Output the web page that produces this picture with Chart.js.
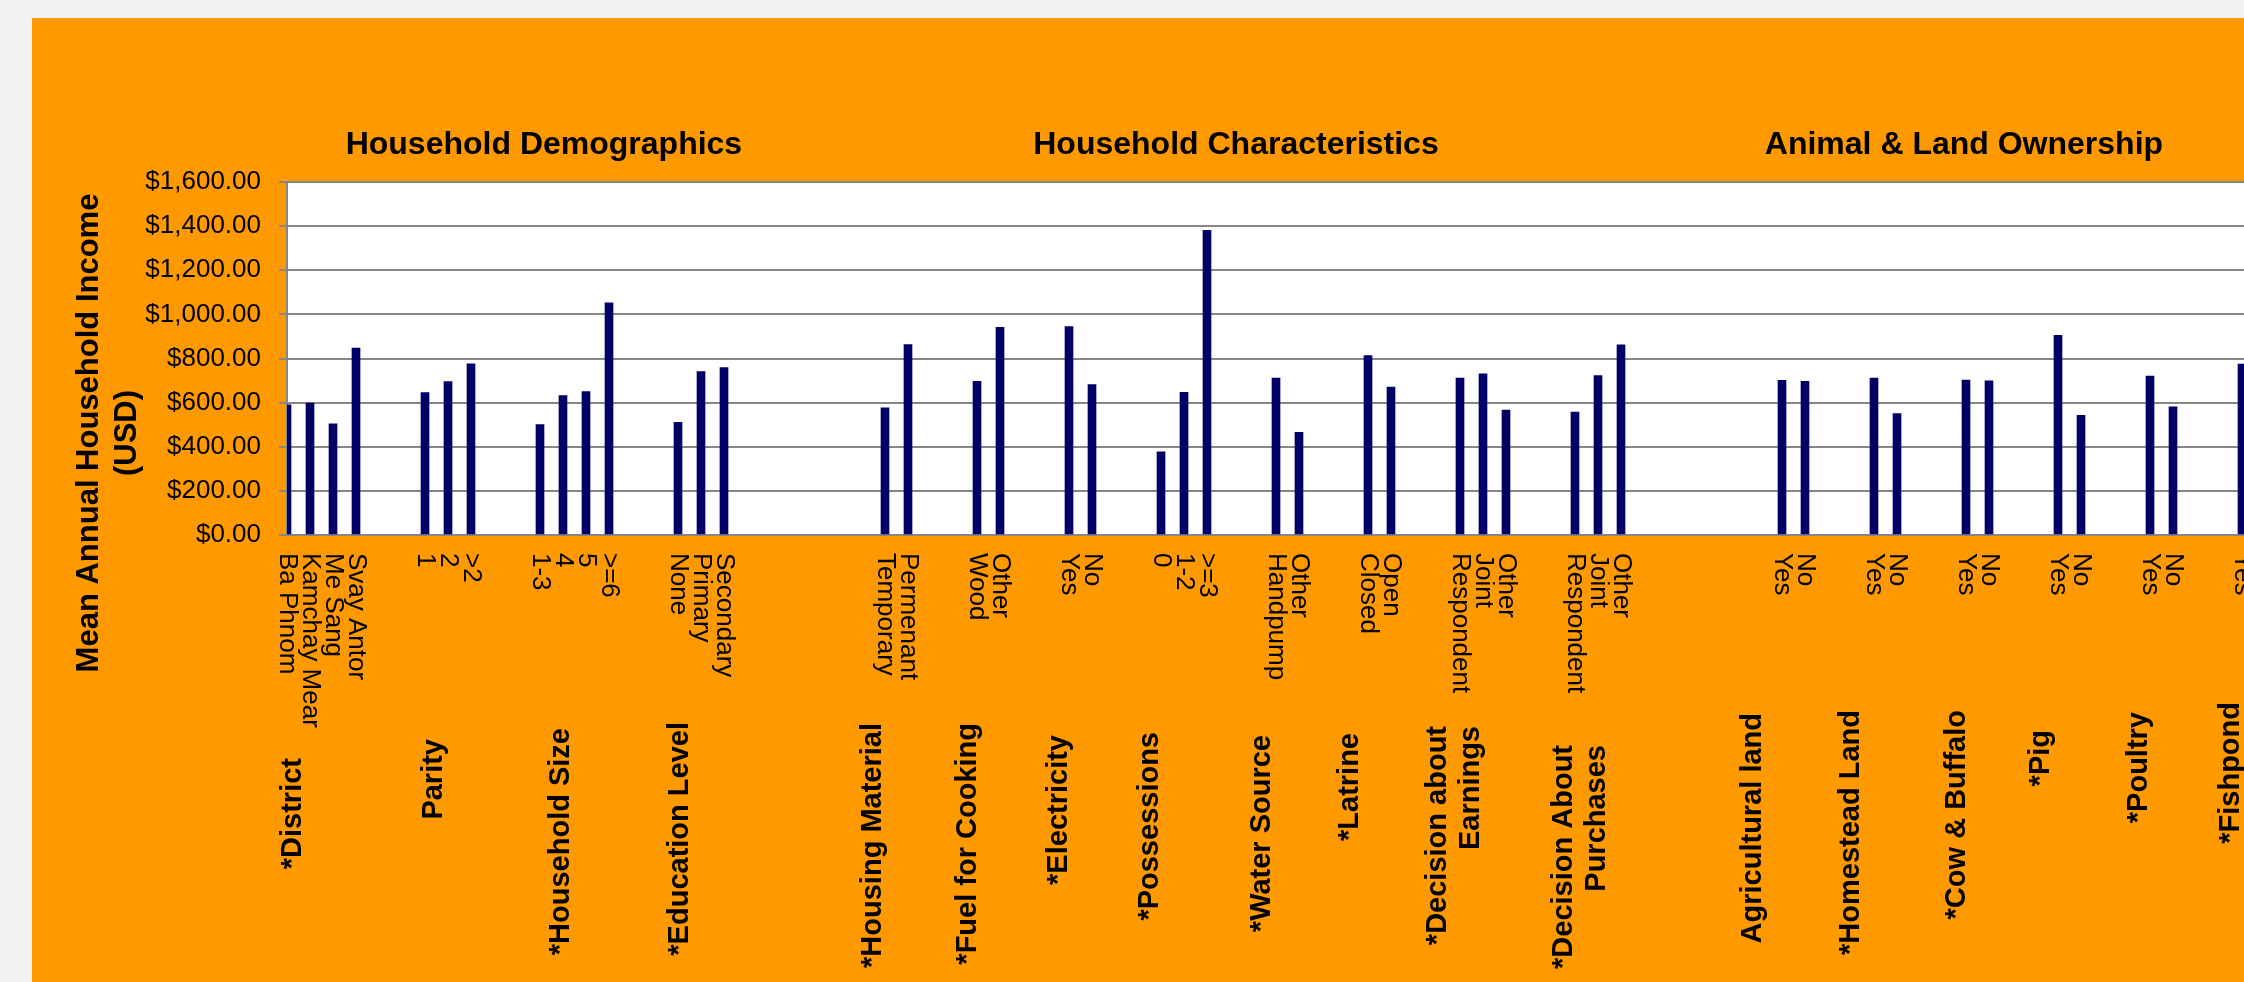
<!DOCTYPE html>
<html><head><meta charset="utf-8">
<script src="https://cdn.jsdelivr.net/npm/chart.js@4/dist/chart.umd.min.js"></script>
<style>
html,body{margin:0;padding:0;background:#f2f2f2;overflow:hidden;width:2244px;height:982px;}
#wrap{position:absolute;left:32px;top:18px;width:2300px;height:964px;background:#ff9900;}
canvas{display:block;}
</style></head><body>
<div id="wrap"><canvas id="c" width="2300" height="964"></canvas></div>
<script>
// ---------------- data ----------------
const sections = ['Household Demographics', 'Household Characteristics', 'Animal & Land Ownership'];
const groupNames = [
  ['*District'], ['Parity'], ['*Household Size'], ['*Education Level'],
  ['*Housing Material'], ['*Fuel for Cooking'], ['*Electricity'], ['*Possessions'],
  ['*Water Source'], ['*Latrine'], ['*Decision about', 'Earnings'], ['*Decision About', 'Purchases'],
  ['Agricultural land'], ['*Homestead Land'], ['*Cow & Buffalo'], ['*Pig'], ['*Poultry'], ['*Fishpond']
];
const groupSection = [0,0,0,0, 1,1,1,1,1,1,1,1, 2,2,2,2,2,2];
const groupLabels = [
  ['Ba Phnom', 'Kamchay Mear', 'Me Sang', 'Svay Antor'],
  ['1', '2', '>2'],
  ['1-3', '4', '5', '>=6'],
  ['None', 'Primary', 'Secondary'],
  ['Temporary', 'Permenant'],
  ['Wood', 'Other'],
  ['Yes', 'No'],
  ['0', '1-2', '>=3'],
  ['Handpump', 'Other'],
  ['Closed', 'Open'],
  ['Respondent', 'Joint', 'Other'],
  ['Respondent', 'Joint', 'Other'],
  ['Yes', 'No'],
  ['Yes', 'No'],
  ['Yes', 'No'],
  ['Yes', 'No'],
  ['Yes', 'No'],
  ['Yes', 'No']
];
const groupIncome = [
  [590, 598, 504, 847],
  [645, 695, 776],
  [501, 632, 650, 1052],
  [511, 741, 759],
  [576, 863],
  [696, 941],
  [945, 682],
  [377, 647, 1381],
  [711, 465],
  [813, 670],
  [711, 730, 566],
  [557, 723, 862],
  [701, 696],
  [711, 550],
  [702, 699],
  [905, 542],
  [720, 581],
  [775, null]
];
const yTicks = [0, 200, 400, 600, 800, 1000, 1200, 1400, 1600];
const yTitle = ['Mean Annual Household Income', '(USD)'];

// ---------------- layout (not data) ----------------
const GAP_IN_SECTION = 2, GAP_BETWEEN_SECTIONS = 6;
const groupLabelAt  = [0.26, 6.37, 11.91, 17.09, 25.48, 29.61, 33.57, 37.52, 42.39, 46.22, 50.76, 56.24, 63.74, 68.0, 72.61, 76.26, 80.52, 84.52];
const groupLabelTop = [758, 739, 728, 722, 723, 723, 735, 732, 735, 733, 726, 745, 713, 710, 710, 730, 712, 702];
const sectionAt = [11.17, 41.26, 72.91];
const OX = 32, OY = 18; // canvas offset in page

// build flat category table
const cats = [], vals = [], groupStart = [];
groupLabels.forEach((labs, g) => {
  if (g > 0) {
    const gap = groupSection[g] !== groupSection[g-1] ? GAP_BETWEEN_SECTIONS : GAP_IN_SECTION;
    for (let k = 0; k < gap; k++) { cats.push(''); vals.push(null); }
  }
  groupStart.push(cats.length);
  labs.forEach((l, j) => { cats.push(l); vals.push(groupIncome[g][j]); });
});

const GRID = '#878787';
const labelPlugin = {
  id: 'labels',
  beforeDraw(chart) {
    const {ctx, chartArea: a} = chart;
    ctx.save();
    ctx.fillStyle = '#ffffff';
    ctx.fillRect(a.left, a.top, a.right - a.left, a.bottom - a.top);
    ctx.restore();
  },
  afterDraw(chart) {
    const {ctx} = chart;
    const xs = chart.scales.x;
    ctx.save();
    ctx.fillStyle = '#000';
    // category tick labels, rotated clockwise
    ctx.font = '26px "Liberation Sans", Arial, sans-serif';
    ctx.textAlign = 'left';
    ctx.textBaseline = 'middle';
    cats.forEach((lab, i) => {
      if (!lab) return;
      const x = xs.getPixelForValue(i);
      ctx.save(); ctx.translate(x, 553 - OY); ctx.rotate(Math.PI / 2); ctx.fillText(lab, 0, 0); ctx.restore();
    });
    // group labels, rotated counter-clockwise
    ctx.font = 'bold 29px "Liberation Sans", Arial, sans-serif';
    ctx.textAlign = 'right';
    groupNames.forEach((lines, g) => {
      const cx = xs.getPixelForValue(groupLabelAt[g]);
      const n = lines.length, lh = 33;
      lines.forEach((t, k) => {
        const x = cx + (k - (n - 1) / 2) * lh;
        ctx.save(); ctx.translate(x, groupLabelTop[g] - OY); ctx.rotate(-Math.PI / 2); ctx.fillText(t, 0, 0); ctx.restore();
      });
    });
    // section headings
    ctx.font = 'bold 32px "Liberation Sans", Arial, sans-serif';
    ctx.textAlign = 'center';
    sections.forEach((s, i) => {
      ctx.fillText(s, xs.getPixelForValue(sectionAt[i]), 145 - OY);
    });
    // y axis title
    ctx.font = 'bold 31px "Liberation Sans", Arial, sans-serif';
    ctx.textAlign = 'center';
    const ycx = [89 - OX, 127 - OX];
    yTitle.forEach((t, k) => {
      ctx.save(); ctx.translate(ycx[k], 433 - OY); ctx.rotate(-Math.PI / 2); ctx.fillText(t, 0, 0); ctx.restore();
    });
    ctx.restore();
  }
};

new Chart(document.getElementById('c'), {
  type: 'bar',
  data: {
    labels: cats,
    datasets: [{
      data: vals,
      backgroundColor: '#000066',
      borderWidth: 0,
      barThickness: 8,
      clip: 0
    }]
  },
  options: {
    responsive: false,
    animation: false,
    devicePixelRatio: 1,
    layout: { padding: { left: 0, top: 182 - OY, right: 2300 - (287 - OX) - 86 * 23, bottom: 964 - (535 - OY) } },
    plugins: { legend: { display: false }, tooltip: { enabled: false } },
    scales: {
      x: {
        type: 'category',
        offset: false,
        grid: { display: false },
        border: { display: true, color: GRID, width: 2 },
        ticks: { display: false },
        afterFit(s) { s.height = 0; }
      },
      y: {
        min: 0, max: 1600,
        afterBuildTicks(s) { s.ticks = yTicks.map(v => ({ value: v })); },
        grid: { color: GRID, lineWidth: 2, tickLength: 8, drawTicks: true },
        border: { display: true, color: GRID, width: 2 },
        ticks: {
          padding: 18,
          color: '#000',
          font: { family: '"Liberation Sans", Arial, sans-serif', size: 26 },
          callback: v => '$' + Number(v).toLocaleString('en-US', { minimumFractionDigits: 2, maximumFractionDigits: 2 })
        },
        afterFit(s) { s.width = 287 - OX; }
      }
    }
  },
  plugins: [labelPlugin]
});
</script></body></html>
